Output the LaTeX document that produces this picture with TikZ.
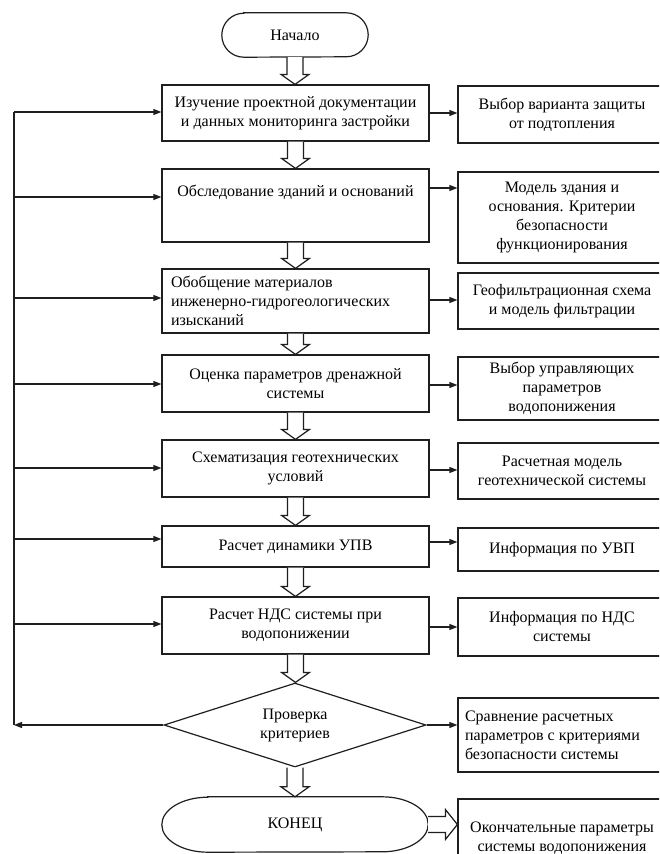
\documentclass[tikz,border=0pt]{standalone}
\usepackage{fontspec}
\setmainfont{Liberation Serif}
\usetikzlibrary{shapes.geometric,arrows.meta,calc}
\newcommand\harrowdown[2]{%
  \draw[harrow] let \p1=(#1.south), \p2=(#2.north) in
    (\x1-8pt,\y1) -- (\x1-8pt,\y2+10pt) -- (\x1-14pt,\y2+10pt) -- (\x1,\y2)
    -- (\x1+14pt,\y2+10pt) -- (\x1+8pt,\y2+10pt) -- (\x1+8pt,\y1);}
\tikzset{
  ln/.style={line width=1.2pt, draw=black!88},
  txtf/.style={font=\fontsize{16}{19}\selectfont},
  box/.style={ln, rectangle, fill=white, minimum width=267pt, inner sep=0pt, align=center, txtf},
  rbox/.style={box, minimum width=208pt},
  plain/.style={inner sep=0pt, align=center, txtf},
  arr/.style={ln, -{Triangle[length=8pt,width=6pt]}},
  harrow/.style={ln, fill=white, line join=miter},
}
\begin{document}
\begin{tikzpicture}[x=1pt,y=1pt]
\useasboundingbox (0,0) rectangle (659,-854);
\clip (0,0) rectangle (659,-854);
\fill[white] (0,0) rectangle (659,-854);

% terminal start
\node[plain, minimum width=146pt, minimum height=44pt] (nach) at (295,-35) {Начало};
\draw[ln] ([xshift=22pt]nach.north west) -- ([xshift=-22pt]nach.north east)
  arc[start angle=90, end angle=-90, x radius=22pt, y radius=22pt]
  -- ([xshift=22pt]nach.south west)
  arc[start angle=270, end angle=90, x radius=22pt, y radius=22pt] -- cycle;

% left column
\node[box, minimum height=56pt] (b1) at (295.5,-113) {Изучение проектной документации\\и данных мониторинга застройки};
\node[box, minimum height=73pt] (b2) at (295.5,-205.5) {};
\node[plain] (b2t) at (295.5,-192) {Обследование зданий и оснований};
\node[box, minimum height=64pt, text width=249pt, align=flush left] (b3) at (295.5,-301) {Обобщение материалов\\инженерно-гидрогеологических\\изысканий};
\node[box, minimum height=57pt] (b4) at (295.5,-383.5) {Оценка параметров дренажной\\системы};
\node[box, minimum height=57pt] (b5) at (295.5,-468.5) {Схематизация геотехнических\\условий};
\node[box, minimum height=41pt] (b6) at (295.5,-546.5) {Расчет динамики УПВ};
\node[box, minimum height=57pt] (b7) at (295.5,-625.5) {Расчет НДС системы при\\водопонижении};
\node[ln, draw, diamond, aspect=3.1, minimum width=262pt, minimum height=84pt, inner sep=0pt, align=center, txtf] (dia) at (295,-725) {Проверка\\критериев};

% terminal end
\node[plain, minimum width=266pt, minimum height=55pt] (konec) at (295,-824.5) {КОНЕЦ};
\draw[ln] ([xshift=46pt]konec.north west) -- ([xshift=-46pt]konec.north east)
  arc[start angle=90, end angle=-90, x radius=46pt, y radius=27.5pt]
  -- ([xshift=46pt]konec.south west)
  arc[start angle=270, end angle=90, x radius=46pt, y radius=27.5pt] -- cycle;

% right column
\node[rbox, minimum height=57pt] (r1) at (562,-114.5) {Выбор варианта защиты\\от подтопления};
\node[rbox, minimum height=91pt] (r2) at (562,-217.5) {Модель здания и\\основания. Критерии\\безопасности\\функционирования};
\node[rbox, minimum height=56pt] (r3) at (562,-301) {Геофильтрационная схема\\и модель фильтрации};
\node[rbox, minimum height=63pt] (r4) at (562,-388.5) {Выбор управляющих\\параметров\\водопонижения};
\node[rbox, minimum height=56pt] (r5) at (562,-471) {Расчетная модель\\геотехнической системы};
\node[rbox, minimum height=43pt] (r6) at (562,-549.5) {Информация по УВП};
\node[rbox, minimum height=58pt] (r7) at (562,-627) {Информация по НДС\\системы};
\node[rbox, minimum height=74pt, text width=194pt, align=flush left] (r8) at (562,-735) {Сравнение расчетных\\параметров с критериями\\безопасности системы};
\node[rbox, minimum height=79pt] (r9) at (562,-838.5) {Окончательные параметры\\системы водопонижения};

% hollow arrows down
\harrowdown{nach}{b1}
\harrowdown{b1}{b2}
\harrowdown{b2}{b3}
\harrowdown{b3}{b4}
\harrowdown{b4}{b5}
\harrowdown{b5}{b6}
\harrowdown{b6}{b7}
\harrowdown{b7}{dia}
\harrowdown{dia}{konec}

% hollow arrow right
\draw[harrow] let \p1=(konec.east), \p2=(r9.west) in
  (\x1,\y1+8pt) -- (\x2-12pt,\y1+8pt) -- (\x2-12pt,\y1+15pt) -- (\x2,\y1)
  -- (\x2-12pt,\y1-15pt) -- (\x2-12pt,\y1-8pt) -- (\x1,\y1-8pt);

% feedback line on the left
\coordinate (L1) at (14,-112);
\coordinate (L2) at (14,-197);
\coordinate (L3) at (14,-298);
\coordinate (L4) at (14,-384);
\coordinate (L5) at (14,-468);
\coordinate (L6) at (14,-539);
\coordinate (L7) at (14,-624);
\coordinate (L8) at (14,-725);
\draw[ln] (L8) -- (L1);
\draw[arr] (dia.west) -- (L8);
\draw[arr] (L1) -- (L1 -| b1.west);
\draw[arr] (L2) -- (L2 -| b2.west);
\draw[arr] (L3) -- (L3 -| b3.west);
\draw[arr] (L4) -- (L4 -| b4.west);
\draw[arr] (L5) -- (L5 -| b5.west);
\draw[arr] (L6) -- (L6 -| b6.west);
\draw[arr] (L7) -- (L7 -| b7.west);

% arrows to the right column
\coordinate (A1) at (429.6,-113);
\coordinate (A2) at (429.6,-188);
\coordinate (A3) at (429.6,-300);
\coordinate (A4) at (429.6,-385);
\coordinate (A5) at (429.6,-470);
\coordinate (A6) at (429.6,-542);
\coordinate (A7) at (429.6,-627);
\draw[arr] (A1) -- (A1 -| r1.west);
\draw[arr] (A2) -- (A2 -| r2.west);
\draw[arr] (A3) -- (A3 -| r3.west);
\draw[arr] (A4) -- (A4 -| r4.west);
\draw[arr] (A5) -- (A5 -| r5.west);
\draw[arr] (A6) -- (A6 -| r6.west);
\draw[arr] (A7) -- (A7 -| r7.west);
\draw[arr] (dia.east) -- (dia.east -| r8.west);
\end{tikzpicture}
\end{document}
